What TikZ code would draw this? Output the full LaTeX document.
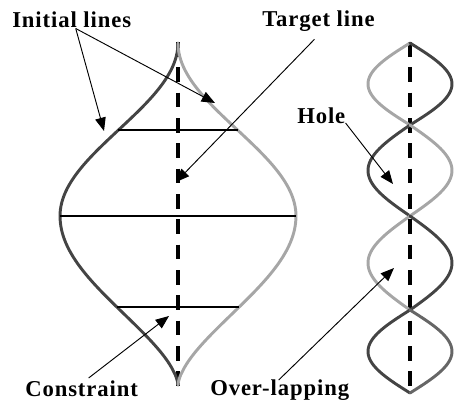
\documentclass[tikz,border=0pt]{standalone}
\usepackage{fontspec}
\setmainfont{Liberation Serif}
\usepackage{tikz}
\usetikzlibrary{arrows.meta, calc}
\definecolor{darkcurve}{HTML}{444444}
\definecolor{lightcurve}{HTML}{A6A6A6}
\definecolor{midcurve}{HTML}{666666}
\tikzstyle{notetext} = [font=\fontsize{17}{20}\selectfont\bfseries\addfontfeature{LetterSpace=4}, inner sep=0pt, anchor=base west]
\tikzstyle{symaxis} = [line width=2.5pt, dash pattern=on 11pt off 8pt]
\tikzstyle{profile} = [line width=2.2pt, line join=round, line cap=round]
\tikzstyle{cutline} = [line width=1pt]
\tikzstyle{arrow} = [line width=0.7pt, -{Triangle[length=10pt,width=8pt]}]

\begin{document}
\begin{tikzpicture}[x=0.75pt, y=-0.75pt,
    declare function={hw(\t)=ifthenelse(\t<216, 118*cos((216-\t)/173*90)^2, 118*pow(max(cos((\t-216)/169*90),0.0001),1.6));}]
    \useasboundingbox (0,0) rectangle (455,405);

    \node (initial) [notetext] at (12,27) {Initial lines};
    \node (target) [notetext] at (262,26) {Target line};
    \node (hole) [notetext] at (297,123) {Hole};
    \node (constraint) [notetext] at (25,396) {Constraint};
    \node (overlap) [notetext] at (210,395) {Over-lapping};

    % left shape
    \draw [symaxis] (178,42) -- (178,386);
    \draw [profile, darkcurve] plot[domain=43:385, samples=100, smooth] ({178-hw(\x)}, \x);
    \draw [profile, lightcurve] plot[domain=43:385, samples=100, smooth] ({178+hw(\x)}, \x);
    \foreach \yc in {130, 216, 307}
        \draw [cutline] ({178-hw(\yc)}, \yc) -- ({178+hw(\yc)}, \yc);

    % right shape
    \draw [symaxis] (410,42) -- (410,394);
    \foreach \ya/\yb/\cl/\cr in {43/125/lightcurve/darkcurve, 125/216/darkcurve/lightcurve, 216/310/lightcurve/darkcurve, 310/393/darkcurve/midcurve} {
        \draw [profile, \cl] plot[domain=\ya:\yb, samples=40, smooth] ({410-42*sin((\x-\ya)/(\yb-\ya)*180)}, \x);
        \draw [profile, \cr] plot[domain=\ya:\yb, samples=40, smooth] ({410+42*sin((\x-\ya)/(\yb-\ya)*180)}, \x);
    }

    \coordinate (initleft) at (104,131);
    \coordinate (initright) at (215,103);
    \coordinate (targetpt) at (176,182);
    \coordinate (holept) at (393,184);
    \coordinate (overlappt) at (394,268);
    \coordinate (constraintpt) at (169,316);

    \draw [arrow] ($(initial.south)+(4,1)$) -- (initleft);
    \draw [arrow] ($(initial.south)+(4,1)$) -- (initright);
    \draw [arrow] ($(target.south)+(-4,8)$) -- (targetpt);
    \draw [arrow] (hole.base east) -- (holept);
    \draw [arrow] ($(overlap.north)+(-1,1)$) -- (overlappt);
    \draw [arrow] ($(constraint.north)+(7,-2)$) -- (constraintpt);
\end{tikzpicture}
\end{document}
